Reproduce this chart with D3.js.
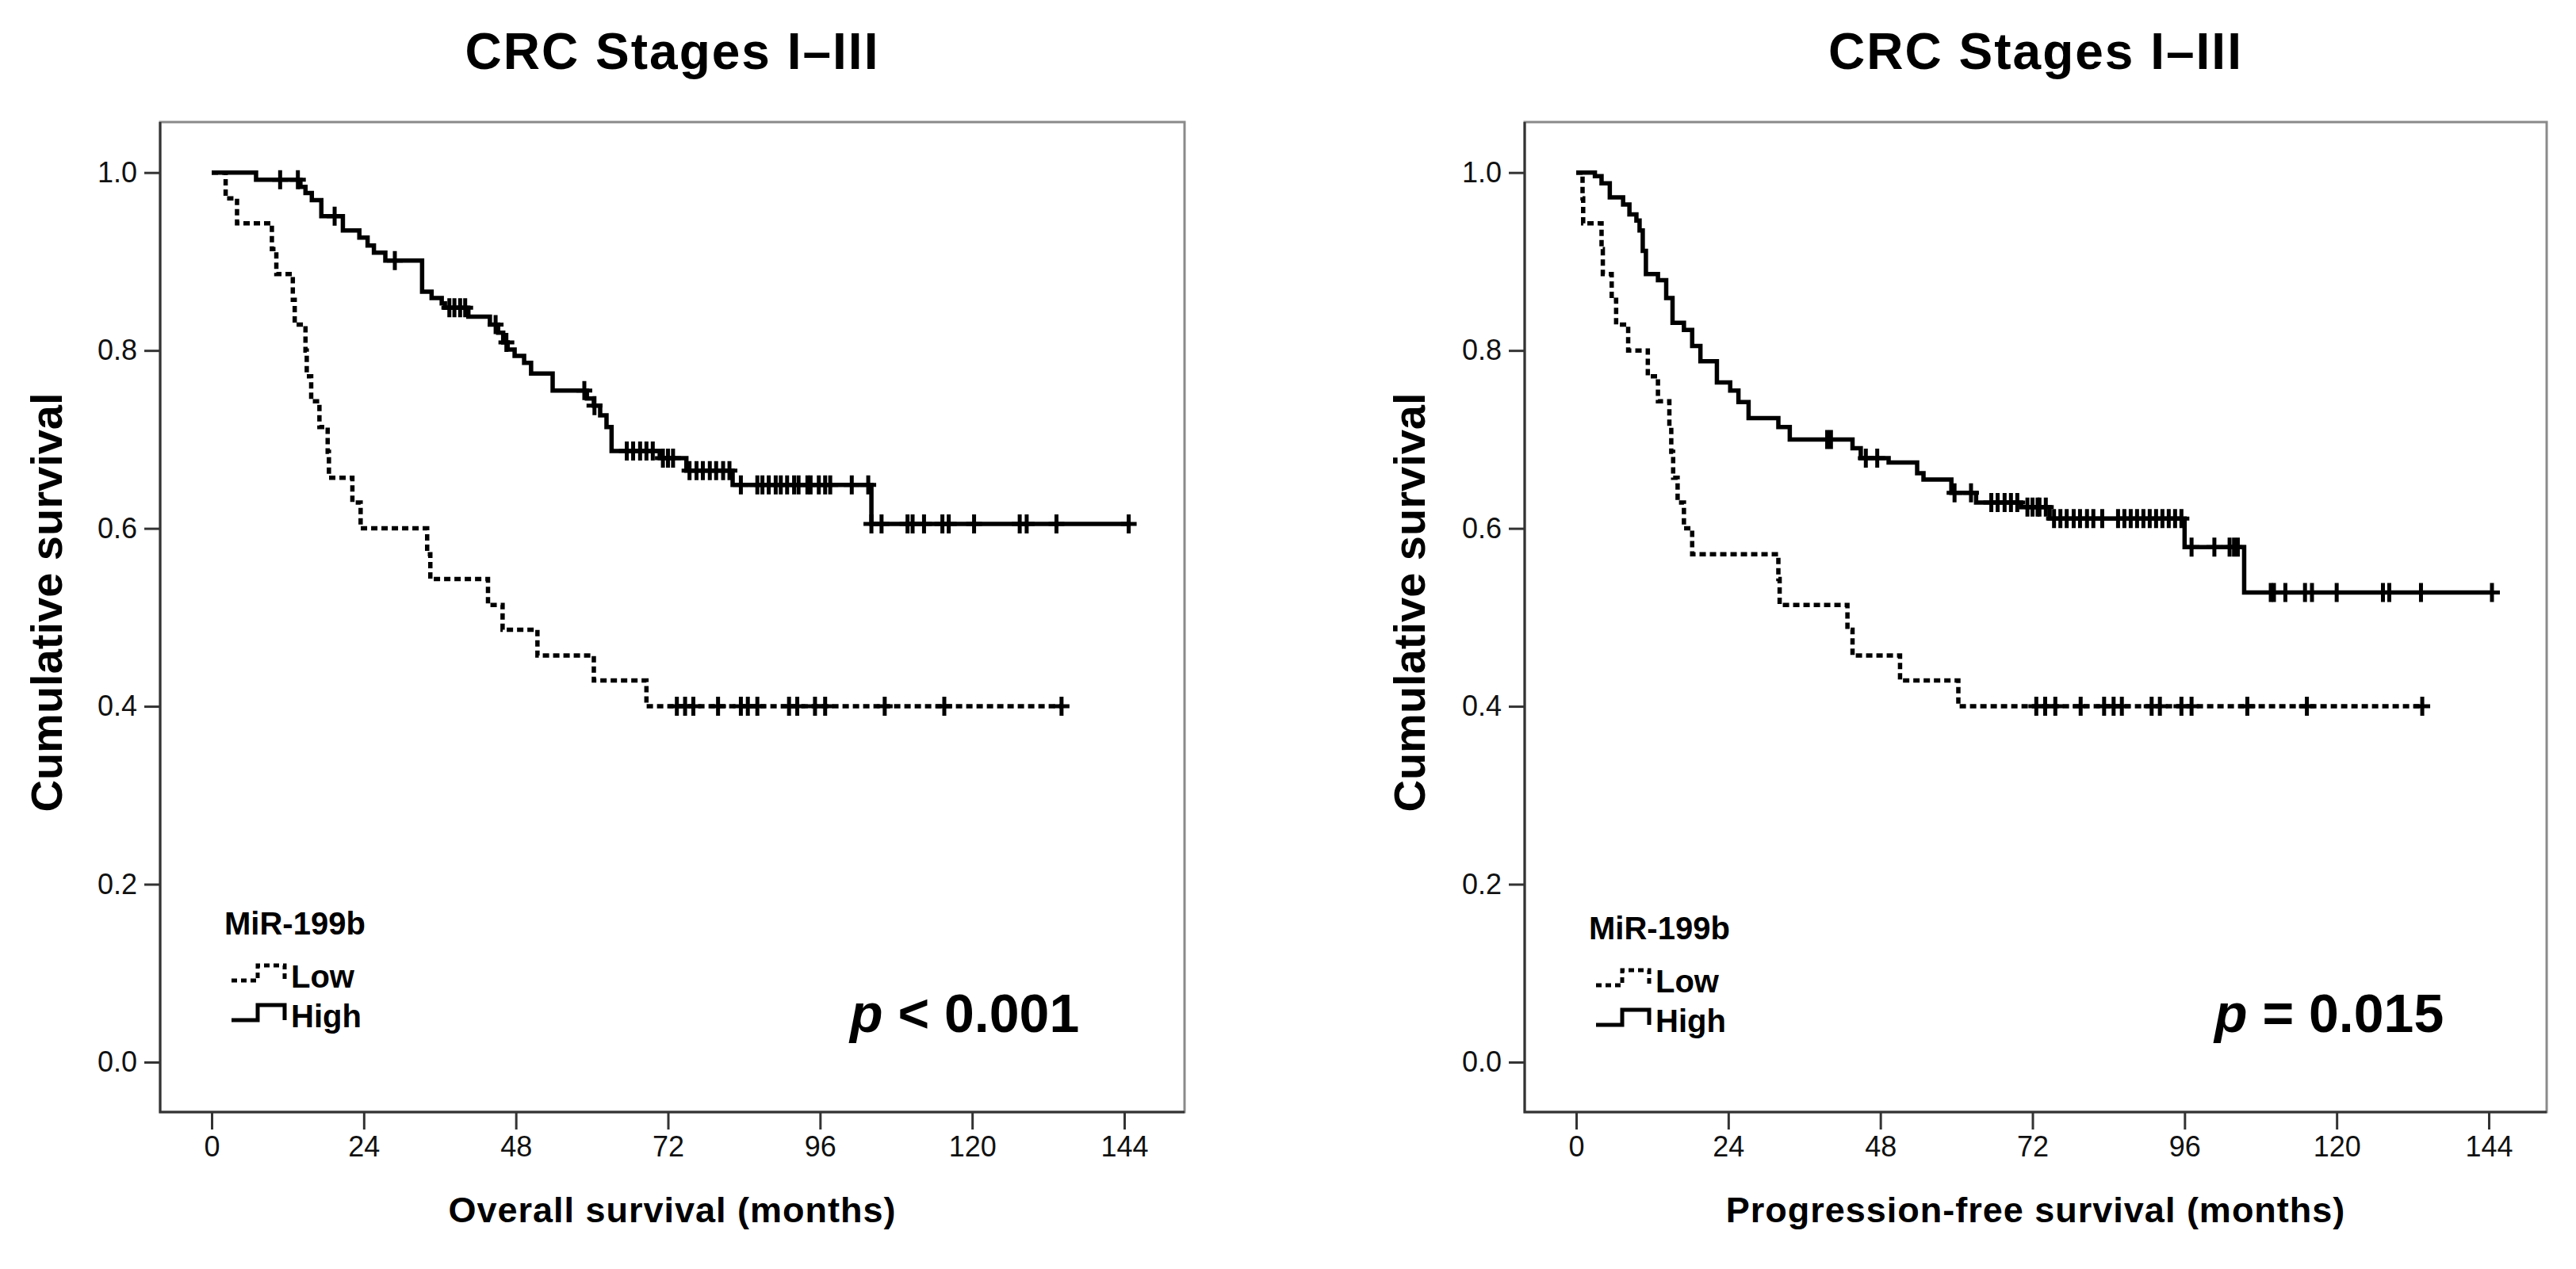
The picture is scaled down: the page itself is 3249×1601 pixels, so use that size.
<!DOCTYPE html>
<html>
<head>
<meta charset="utf-8">
<script src="https://cdn.jsdelivr.net/npm/d3@7"></script>
<style>
  body { margin: 0; background: #fff; }
  text { font-family: "Liberation Sans", Arial, sans-serif; }
</style>
</head>
<body>
<svg width="3249" height="1601"></svg>
<script>
// ---- data (months, cumulative survival) ----
const xTicks = [0, 24, 48, 72, 96, 120, 144];
const yTicks = [0, 0.2, 0.4, 0.6, 0.8, 1.0];
const groups = ['Low', 'High'];

// overall survival, high miR-199b
const osHighTime = [0, 7.0, 14.0, 14.8, 15.8, 17.3, 20.7, 23.3, 24.6, 25.6, 27.4, 33.2, 34.7, 36.3, 36.8, 40.5, 43.9,
  45.2, 46.0, 46.7, 47.8, 49.3, 50.4, 53.8, 59.2, 60.3, 61.3, 62.3, 63.1, 70.7, 74.9, 82.2, 104.1];
const osHighSurv = [1.0, 0.992, 0.984, 0.977, 0.969, 0.951, 0.935, 0.927, 0.918, 0.910, 0.901, 0.866, 0.859, 0.853, 0.848,
  0.838, 0.829, 0.820, 0.809, 0.801, 0.794, 0.786, 0.774, 0.755, 0.746, 0.738, 0.727, 0.714, 0.687, 0.679, 0.665, 0.649, 0.605];
const osHighCensor = [10.8, 13.6, 19.4, 28.9, 37.5, 38.3, 39.2, 40.0, 44.8, 46.5, 58.8, 60.4, 65.5, 66.5, 67.6, 68.6,
  69.6, 71.2, 72.0, 72.8, 75.4, 76.5, 77.5, 78.6, 79.6, 80.7, 81.7, 83.5, 86.1, 86.9, 87.9, 89.0, 89.8, 90.8, 91.9,
  92.6, 94.0, 94.5, 95.8, 96.8, 97.6, 101.0, 103.6, 104.1, 105.7, 109.8, 110.6, 112.4, 115.3, 116.3, 120.3, 127.5,
  128.6, 133.3, 144.7];

// overall survival, low miR-199b
const osLowTime = [0, 2.2, 4.0, 9.5, 10.2, 12.8, 13.1, 14.8, 15.0, 15.7, 17.0, 18.3, 18.5, 22.2, 23.5, 34.0, 34.5,
  43.6, 45.9, 51.4, 60.3, 68.6];
const osLowSurv = [1.0, 0.971, 0.943, 0.914, 0.886, 0.857, 0.829, 0.800, 0.771, 0.743, 0.714, 0.686, 0.657, 0.629,
  0.600, 0.571, 0.543, 0.514, 0.486, 0.457, 0.429, 0.400];
const osLowCensor = [73.4, 74.7, 76.0, 79.9, 83.5, 84.6, 86.1, 91.1, 92.4, 95.2, 96.8, 106.2, 115.6, 134.1];

// progression-free survival, high miR-199b
const pfsHighTime = [0, 2.95, 4.0, 5.3, 7.4, 8.4, 9.5, 10.0, 10.5, 11.0, 12.9, 14.2, 15.2, 17.0, 18.3, 19.6, 22.2,
  24.3, 25.6, 27.2, 31.9, 33.7, 43.6, 44.9, 49.3, 53.8, 54.8, 59.2, 63.1, 70.2, 74.7, 96.0, 105.4];
const pfsHighSurv = [1.0, 0.996, 0.988, 0.972, 0.964, 0.953, 0.946, 0.935, 0.912, 0.886, 0.879, 0.859, 0.831, 0.823,
  0.805, 0.788, 0.764, 0.755, 0.742, 0.724, 0.714, 0.700, 0.690, 0.679, 0.674, 0.662, 0.655, 0.640, 0.629, 0.624,
  0.611, 0.579, 0.528];
const pfsHighCensor = [39.6, 40.2, 45.7, 47.5, 59.7, 62.3, 65.5, 66.5, 67.6, 68.6, 69.6, 71.2, 72.0, 72.8, 73.1, 74.1,
  75.4, 76.4, 77.4, 78.5, 79.5, 80.6, 81.6, 83.0, 85.5, 86.5, 87.5, 88.5, 89.5, 90.5, 91.5, 92.5, 93.5, 94.5, 95.5,
  97.1, 100.7, 103.1, 103.8, 104.4, 109.6, 110.1, 111.9, 115.0, 116.1, 120.0, 127.3, 128.3, 133.3, 144.5];

// progression-free survival, low miR-199b
const pfsLowTime = [0, 1.0, 1.1, 4.0, 4.2, 5.6, 6.3, 8.2, 11.3, 12.9, 14.7, 15.0, 15.3, 16.0, 17.0, 18.3, 31.9, 32.1,
  42.8, 43.6, 51.1, 60.3];
const pfsLowSurv = [1.0, 0.971, 0.943, 0.914, 0.886, 0.857, 0.829, 0.800, 0.771, 0.743, 0.714, 0.686, 0.657, 0.629,
  0.600, 0.571, 0.543, 0.514, 0.486, 0.457, 0.429, 0.400];
const pfsLowCensor = [72.6, 74.0, 75.6, 79.6, 83.3, 84.8, 86.1, 90.8, 92.1, 95.5, 97.1, 105.9, 115.3, 133.5];

// ---- layout ----
const plotTop = 154, plotBottom = 1403;
const dashLow = '8 5';

const panels = [
  {
    left: 202, right: 1494, yLabelX: 78, legendY: 1179,
    title: 'CRC Stages I\u2013III', xLabel: 'Overall survival (months)', pRest: ' < 0.001',
    curves: [
      { time: osLowTime, surv: osLowSurv, censor: osLowCensor, dash: dashLow },
      { time: osHighTime, surv: osHighSurv, censor: osHighCensor, dash: null }
    ]
  },
  {
    left: 1923, right: 3212, yLabelX: 1797, legendY: 1185,
    title: 'CRC Stages I\u2013III', xLabel: 'Progression-free survival (months)', pRest: ' = 0.015',
    curves: [
      { time: pfsLowTime, surv: pfsLowSurv, censor: pfsLowCensor, dash: dashLow },
      { time: pfsHighTime, surv: pfsHighSurv, censor: pfsHighCensor, dash: null }
    ]
  }
];

const svg = d3.select('svg');
svg.append('rect').attr('width', 3249).attr('height', 1601).attr('fill', '#fff');

panels.forEach(drawPanel);

function drawPanel(p) {
  const g = svg.append('g');
  const x = d3.scaleLinear().domain([0, 144]).range([p.left + 65, p.left + 1216]);
  const y = d3.scaleLinear().domain([0, 1]).range([1340, 217.7]);
  const cx = (p.left + p.right) / 2;

  // frame
  g.append('rect')
    .attr('x', p.left).attr('y', plotTop)
    .attr('width', p.right - p.left).attr('height', plotBottom - plotTop)
    .attr('fill', 'none').attr('stroke', '#8a8a8a').attr('stroke-width', 3);
  g.append('path')
    .attr('d', `M${p.left},${plotTop}V${plotBottom}H${p.right}`)
    .attr('fill', 'none').attr('stroke', '#333').attr('stroke-width', 3);

  // axes
  const ya = g.append('g')
    .attr('transform', `translate(${p.left},0)`)
    .call(d3.axisLeft(y).tickValues(yTicks).tickFormat(d3.format('.1f')).tickSize(20).tickPadding(9));
  const xa = g.append('g')
    .attr('transform', `translate(0,${plotBottom})`)
    .call(d3.axisBottom(x).tickValues(xTicks).tickSize(22).tickPadding(8));
  [ya, xa].forEach(a => {
    a.attr('font-size', 36).attr('font-family', '"Liberation Sans", Arial, sans-serif');
    a.select('.domain').remove();
    a.selectAll('line').attr('stroke', '#333').attr('stroke-width', 3);
    a.selectAll('text').attr('fill', '#111');
  });

  // curves + censor marks
  const line = d3.line().x(d => x(d[0])).y(d => y(d[1])).curve(d3.curveStepAfter);
  p.curves.forEach(c => {
    const end = Math.max(d3.max(c.censor), d3.max(c.time));
    const pts = c.time.map((t, i) => [t, c.surv[i]]);
    pts.push([end, c.surv[c.surv.length - 1]]);
    g.append('path')
      .attr('d', line(pts))
      .attr('fill', 'none').attr('stroke', '#000')
      .attr('stroke-width', c.dash ? 5.5 : 5.5)
      .attr('stroke-dasharray', c.dash);

    const survAt = t => {
      let s = c.surv[0];
      c.time.forEach((tt, i) => { if (tt <= t) s = c.surv[i]; });
      return s;
    };
    g.selectAll(null).data(c.censor).join('path')
      .attr('d', t => {
        const px = x(t), py = y(survAt(t));
        return `M${px},${py - 12}V${py + 12}M${px - 10},${py}H${px + 10}`;
      })
      .attr('stroke', '#000').attr('stroke-width', 5);
  });

  // titles and labels
  g.append('text')
    .attr('x', cx).attr('y', 87).attr('text-anchor', 'middle')
    .attr('font-size', 64).attr('font-weight', 'bold').attr('letter-spacing', 2)
    .text(p.title);
  g.append('text')
    .attr('x', cx).attr('y', 1542).attr('text-anchor', 'middle')
    .attr('font-size', 45).attr('font-weight', 'bold').attr('letter-spacing', 1)
    .text(p.xLabel);
  g.append('text')
    .attr('transform', `translate(${p.yLabelX},760) rotate(-90)`)
    .attr('text-anchor', 'middle')
    .attr('font-size', 56).attr('font-weight', 'bold')
    .text('Cumulative survival');

  // legend
  const lx = p.left;
  g.append('text')
    .attr('x', lx + 81).attr('y', p.legendY)
    .attr('font-size', 40).attr('font-weight', 'bold')
    .text('MiR-199b');
  groups.forEach((name, i) => {
    const by = p.legendY + 67 + i * 50;
    g.append('path')
      .attr('d', `M${lx + 90},${by - 9}H${lx + 123}V${by - 28}H${lx + 157}V${by - 9}`)
      .attr('fill', 'none').attr('stroke', '#000')
      .attr('stroke-width', 5)
      .attr('stroke-dasharray', i === 0 ? '7 5' : null);
    g.append('text')
      .attr('x', lx + 165).attr('y', by)
      .attr('font-size', 40).attr('font-weight', 'bold')
      .text(name);
  });

  // p value
  const pt = g.append('text')
    .attr('x', p.left + 870).attr('y', 1302)
    .attr('font-size', 68).attr('font-weight', 'bold');
  pt.append('tspan').attr('font-style', 'italic').text('p');
  pt.append('tspan').text(p.pRest);
}
</script>
</body>
</html>
